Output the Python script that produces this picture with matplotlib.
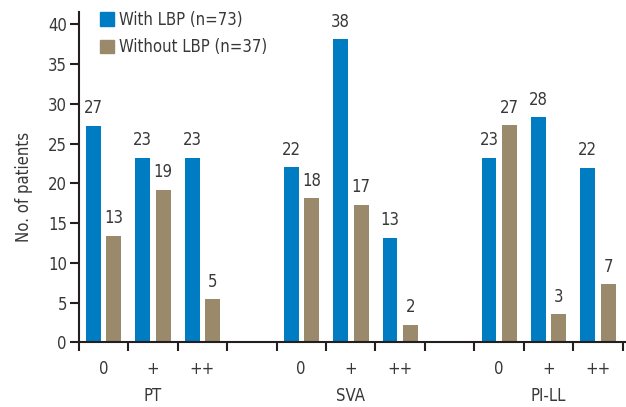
import matplotlib
matplotlib.use('Agg')
import matplotlib.pyplot as plt
from matplotlib.transforms import blended_transform_factory
from matplotlib.patches import Patch

groups = ['PT', 'SVA', 'PI-LL']
grades = ['0', '+', '++']
with_lbp_counts = [27, 23, 23, 22, 38, 13, 23, 28, 22]
without_lbp_counts = [13, 19, 5, 18, 17, 2, 27, 3, 7]
with_lbp_heights = [27.2, 23.2, 23.2, 22.0, 38.1, 13.1, 23.2, 28.3, 21.9]
without_lbp_heights = [13.4, 19.2, 5.4, 18.1, 17.3, 2.2, 27.3, 3.5, 7.3]
yticks = [0, 5, 10, 15, 20, 25, 30, 35, 40]
series_labels = ['With LBP (n=73)', 'Without LBP (n=37)']

BLUE = '#007CC2'
BROWN = '#9A896A'
TXT = '#383838'
AX = '#231F20'

plt.rcParams['font.family'] = ['DejaVu Sans']
plt.rcParams['font.stretch'] = 'condensed'
plt.rcParams['font.size'] = 12

fig = plt.figure(figsize=(6.26, 4.07), dpi=100)
ax = fig.add_axes([78.7 / 626, 1 - 342.3 / 407, (625 - 78.7) / 626, (342.3 - 12.4) / 407])

slots = [g * 4 + k for g in range(len(groups)) for k in range(len(grades))]
bw = 0.30
xb = [s + 0.295 for s in slots]
xr = [s + 0.71 for s in slots]
ax.bar(xb, with_lbp_heights, width=bw, color=BLUE, label=series_labels[0])
ax.bar(xr, without_lbp_heights, width=bw, color=BROWN, label=series_labels[1])

for x, h, c in zip(xb, with_lbp_heights, with_lbp_counts):
    ax.annotate(str(c), (x, h), xytext=(0, 6.3), textcoords='offset points',
                ha='center', va='bottom', color=TXT, fontsize=12)
for x, h, c in zip(xr, without_lbp_heights, without_lbp_counts):
    ax.annotate(str(c), (x, h), xytext=(0, 6.3), textcoords='offset points',
                ha='center', va='bottom', color=TXT, fontsize=12)

ax.set_xlim(0, 11 * (625 - 78.7) / (622.7 - 78.7))
ax.set_ylim(0, 41.5)
ax.set_yticks(yticks)
ax.set_xticks(range(12))
ax.set_xticklabels([])
ax.set_xticks([s + 0.5 for s in slots], minor=True)
ax.set_xticklabels(grades * len(groups), minor=True)
ax.tick_params(axis='x', which='minor', length=0, pad=13, labelsize=12, colors=TXT)
ax.tick_params(axis='x', which='major', length=6.5, width=1.5, color=AX)
ax.tick_params(axis='y', length=6.5, width=1.5, color=AX, labelcolor=TXT, labelsize=12, pad=2)

for side in ['top', 'right']:
    ax.spines[side].set_visible(False)
for side in ['left', 'bottom']:
    ax.spines[side].set_linewidth(1.5)
    ax.spines[side].set_color(AX)

trans = blended_transform_factory(ax.transData, fig.transFigure)
for g, name in enumerate(groups):
    ax.text(g * 4 + 1.5, 1 - 396 / 407, name, transform=trans, ha='center', va='center',
            fontsize=12, color=TXT)

fig.text(24 / 626, 1 - 187 / 407, 'No. of patients', rotation=90, ha='center', va='center',
         fontsize=12, color=TXT)

handles = [Patch(color=BLUE), Patch(color=BROWN)]
leg = fig.legend(handles, series_labels, loc='upper left', bbox_to_anchor=(94.5 / 626, 1 - 6 / 407),
                 frameon=False, fontsize=12, handlelength=0.87, handleheight=0.87,
                 handletextpad=0.32, labelspacing=0.55, borderaxespad=0, borderpad=0.3)
for t in leg.get_texts():
    t.set_color(TXT)

fig.savefig('out.png', dpi=100)
